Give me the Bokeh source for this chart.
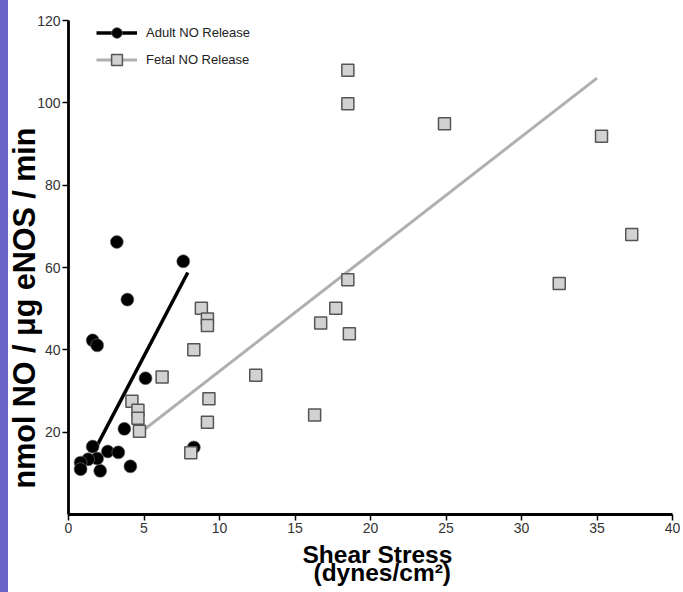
from bokeh.plotting import figure
from bokeh.models import Legend, LegendItem, FixedTicker, Range1d, Title
from bokeh.embed import file_html
from bokeh.resources import INLINE

# ---- data ----
adult_x = [3.2, 7.6, 3.9, 1.6, 1.9, 5.1, 3.7, 1.6, 2.6, 3.3, 1.9, 1.3, 0.8, 0.8, 2.1, 4.1, 8.3]
adult_y = [66.2, 61.5, 52.2, 42.3, 41.1, 33.1, 20.8, 16.5, 15.3, 15.1, 13.6, 13.4, 12.6, 11.0, 10.6, 11.7, 16.3]

fetal_x = [18.5, 18.5, 24.9, 35.3, 37.3, 32.5, 18.5, 17.7, 16.7, 18.6, 12.4, 16.3,
           8.8, 9.2, 9.2, 8.3, 6.2, 4.2, 4.6, 4.6, 4.7, 9.3, 9.2, 8.1]
fetal_y = [107.9, 99.8, 94.9, 91.9, 68.0, 56.1, 57.0, 50.1, 46.5, 43.9, 33.8, 24.2,
           50.1, 47.5, 45.9, 40.0, 33.4, 27.5, 25.3, 23.4, 20.2, 28.1, 22.4, 15.0]

adult_fit_x = [1.9, 7.9]
adult_fit_y = [16.8, 58.8]
fetal_fit_x = [5.0, 35.0]
fetal_fit_y = [20.6, 106.0]

x_ticks = [0, 5, 10, 15, 20, 25, 30, 35, 40]
y_ticks = [20, 40, 60, 80, 100, 120]

FONT = "Liberation Sans"

p = figure(width=675, height=592, output_backend="svg", toolbar_location=None,
           x_range=Range1d(0, 40), y_range=Range1d(0, 120),
           min_border_left=60, min_border_right=11, min_border_top=20, min_border_bottom=78)
p.outline_line_color = None
p.grid.visible = False
p.background_fill_color = "white"
p.border_fill_color = "white"

for ax in (p.xaxis[0], p.yaxis[0]):
    ax.axis_line_width = 2.8
    ax.axis_line_color = "black"
    ax.major_tick_line_width = 1.5
    ax.major_tick_out = 6
    ax.major_tick_in = 0
    ax.minor_tick_line_color = None
    ax.major_label_text_font = FONT
    ax.major_label_text_font_size = "14px"
    ax.major_label_text_color = "#333333"
    ax.major_label_standoff = 2

p.xaxis[0].ticker = FixedTicker(ticks=x_ticks)
p.yaxis[0].ticker = FixedTicker(ticks=y_ticks)

ar = p.line(adult_fit_x, adult_fit_y, line_color="black", line_width=3.5)
fr = p.line(fetal_fit_x, fetal_fit_y, line_color="#b0b0b0", line_width=3)
ac = p.scatter(adult_x, adult_y, marker="circle", size=13, fill_color="black",
               line_color="#777777", line_width=0.6)
fs = p.scatter(fetal_x, fetal_y, marker="square", size=12, fill_color="#d2d2d2",
               line_color="#555555", line_width=1.5)

legend = Legend(items=[LegendItem(label="Adult NO Release", renderers=[ar, ac]),
                       LegendItem(label="Fetal NO Release", renderers=[fr, fs])],
                location=(28, 441), glyph_width=41, glyph_height=27, spacing=0,
                label_standoff=9, padding=0, margin=0,
                border_line_color=None, background_fill_alpha=0,
                label_text_font=FONT, label_text_font_size="13px", label_text_color="#222222")
p.add_layout(legend)

# axis titles
ylab = Title(text="nmol NO / \u03bcg eNOS / min", align="left", offset=26, standoff=-13,
             vertical_align="bottom", text_font=FONT, text_font_size="30.5px",
             text_font_style="bold", text_color="black")
p.add_layout(ylab, "left")

x1 = Title(text="Shear Stress", align="left", offset=234, standoff=10, vertical_align="top",
           text_font=FONT, text_font_size="24.5px", text_font_style="bold", text_color="black")
x2 = Title(text="(dynes/cm\u00b2)", align="left", offset=245, standoff=-32, vertical_align="top",
           text_font=FONT, text_font_size="24.5px", text_font_style="bold", text_color="black")
p.add_layout(x1, "below")
p.add_layout(x2, "below")

html = file_html(p, INLINE)
html = html.replace("</head>", "<style>body{padding-left:8px !important;background:linear-gradient(to right,#6a66c9 0px,#6a66c9 8px,#ffffff 8px) !important;}</style></head>", 1)
open("out.html", "w").write(html)
